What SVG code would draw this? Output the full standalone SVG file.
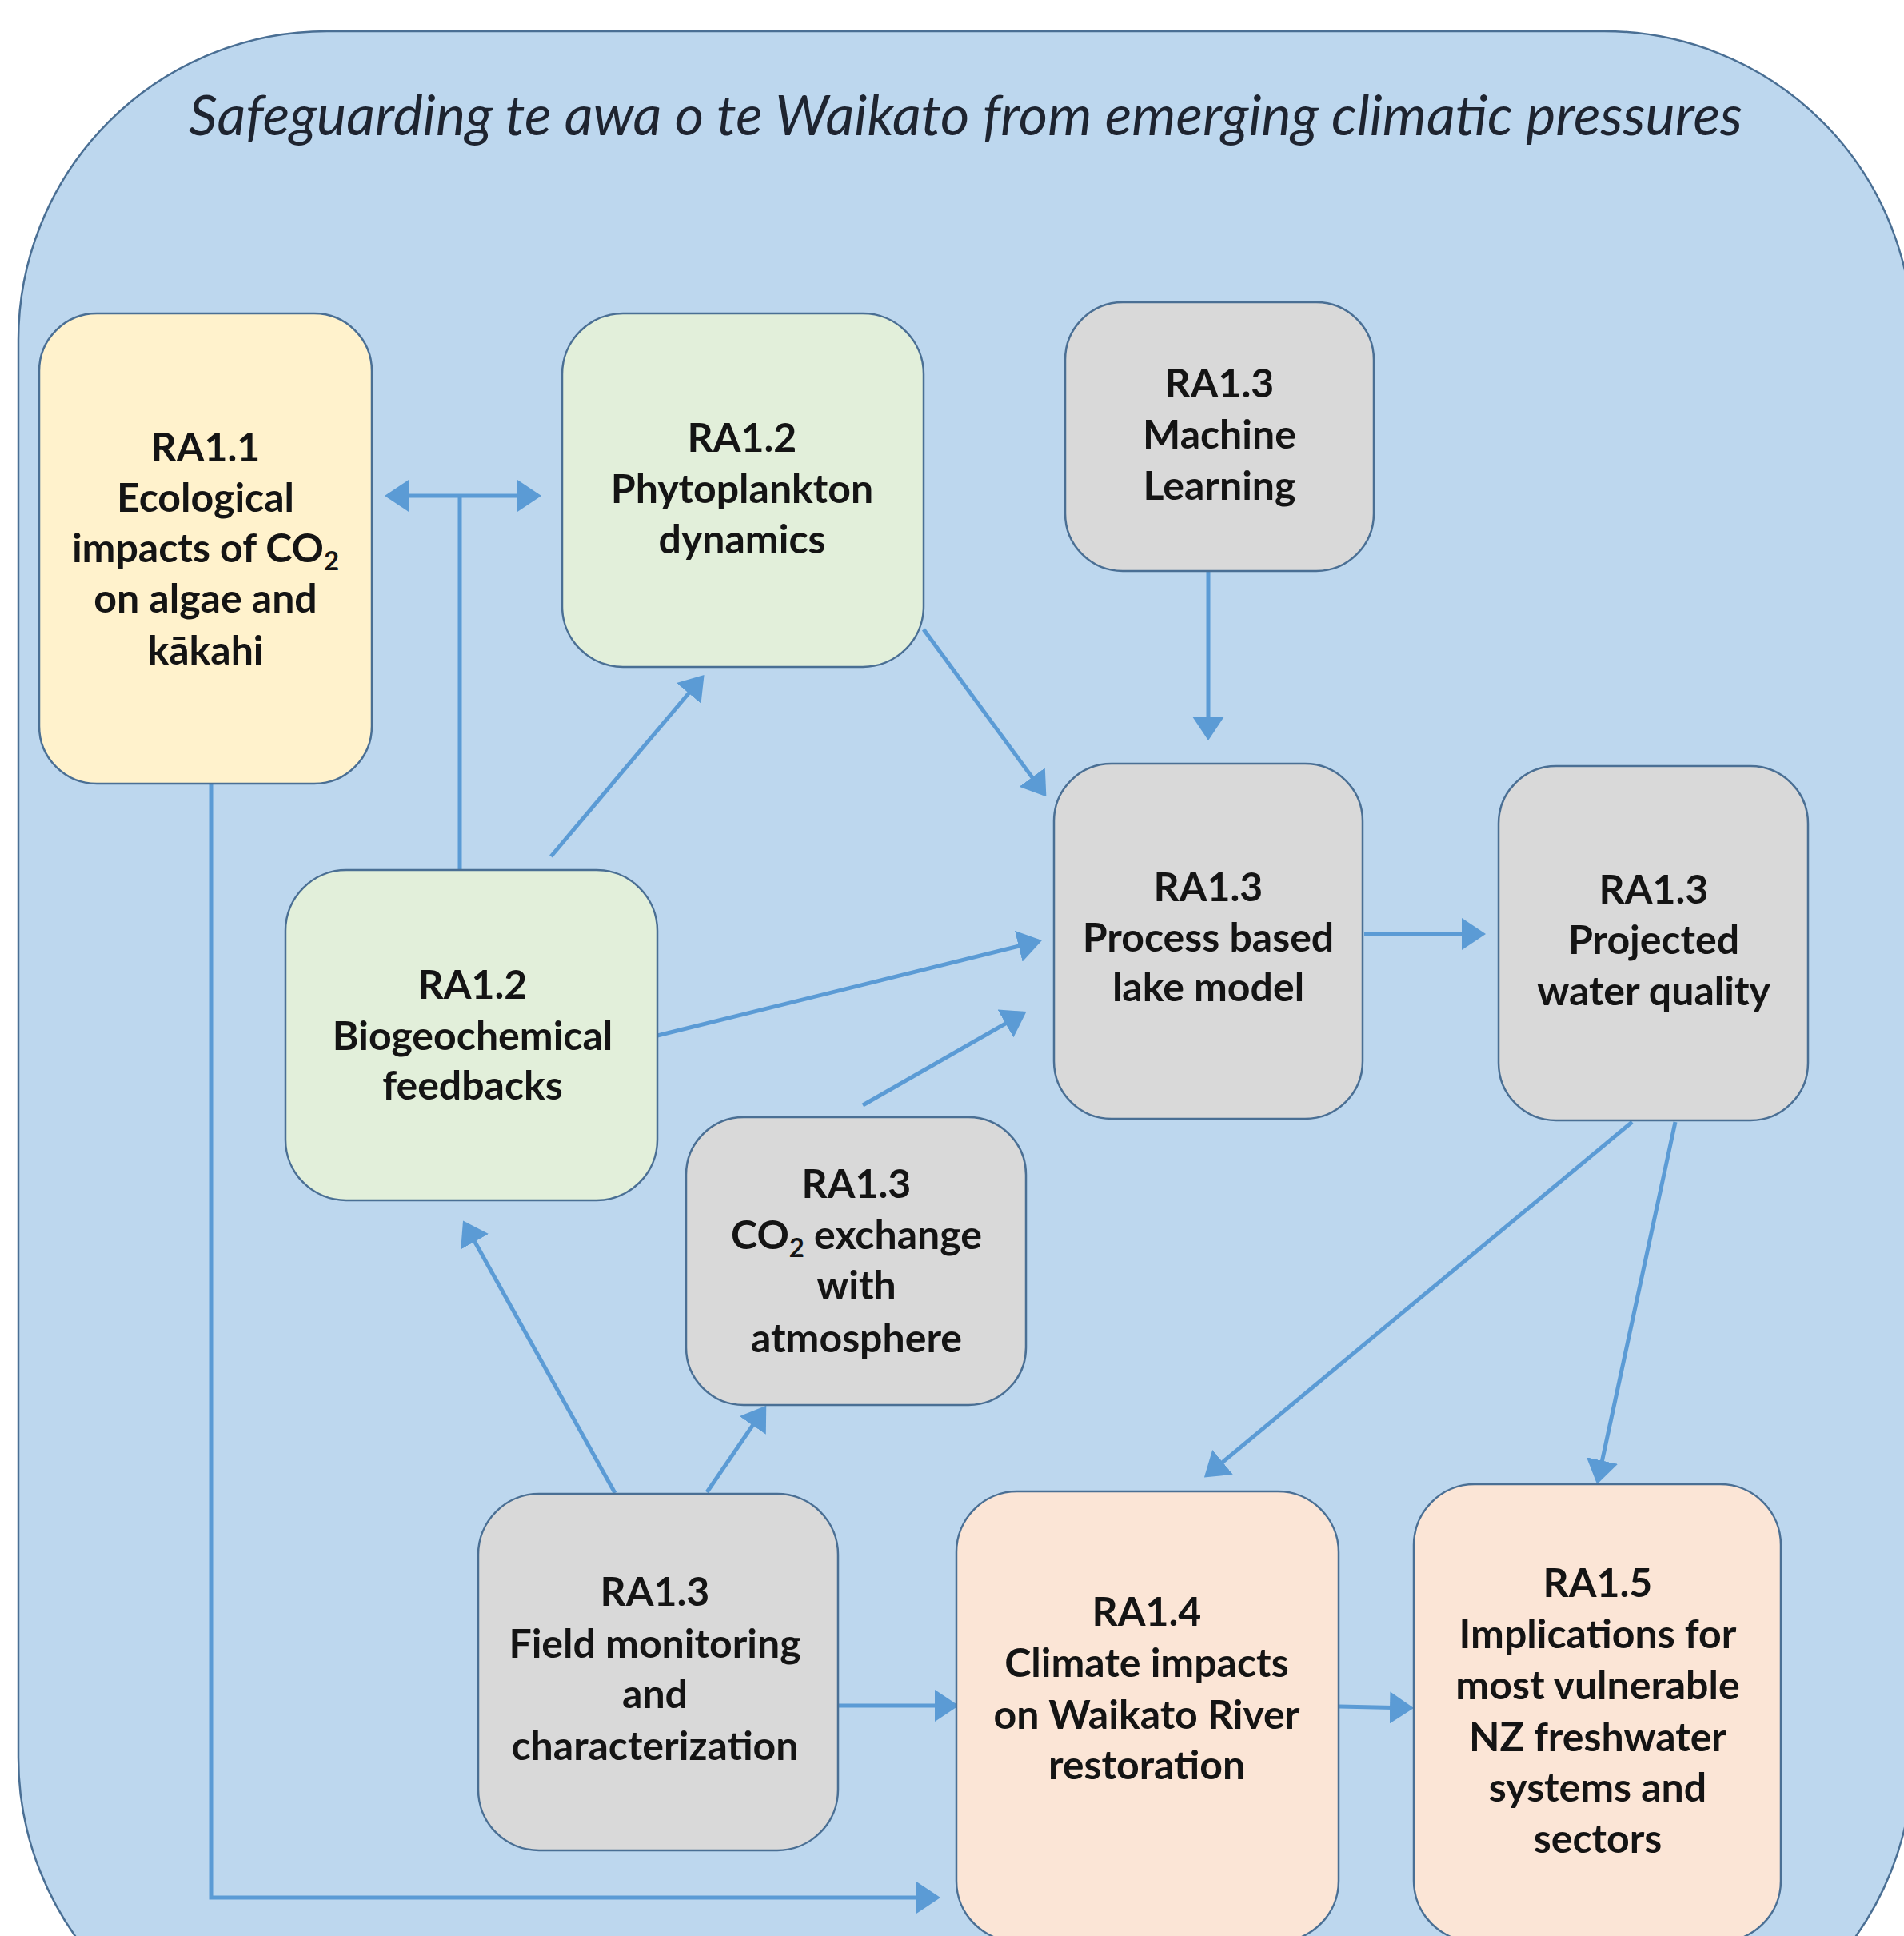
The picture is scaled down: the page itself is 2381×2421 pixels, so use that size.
<svg xmlns="http://www.w3.org/2000/svg" width="2381" height="2421" viewBox="0 0 2381 2421">
<style>
.box{stroke:#4a6f94;stroke-width:2.5}
.yel{fill:#FFF2CC}
.grn{fill:#E2EFDA}
.gry{fill:#D9D9D9}
.pch{fill:#FBE5D6}
.lbl{font-family:Lato,"Open Sans","Liberation Sans",sans-serif;font-weight:bold;font-size:50px;fill:#141414;text-anchor:middle}
.sub{font-size:33px}
.con{fill:none;stroke:#5B9BD5;stroke-width:5}
.arr{marker-end:url(#ah)}
</style>
<defs>
<marker id="ah" viewBox="0 0 30 40" refX="26" refY="20" markerWidth="30" markerHeight="40" markerUnits="userSpaceOnUse" orient="auto-start-reverse">
<path d="M0,0 L30,20 L0,40 Z" fill="#5B9BD5"/>
</marker>
</defs>
<rect width="2381" height="2421" fill="#ffffff"/>
<rect id="frame" x="23" y="39" width="2369" height="2545" rx="386" ry="386" fill="#BDD7EE" stroke="#4a6f94" stroke-width="2.5"/>
<text id="title" x="236" y="169" textLength="1943" lengthAdjust="spacingAndGlyphs" font-family="Lato,'Open Sans','Liberation Sans',sans-serif" font-style="italic" font-size="70" fill="#1e2430">Safeguarding te awa o te Waikato from emerging climatic pressures</text>

<g id="connectors">
<path class="con" d="M575,1088 L575,620"/>
<path class="con" d="M485,620 L673,620" marker-start="url(#ah)" marker-end="url(#ah)"/>
<path class="con arr" d="M689,1071 L878,847"/>
<path class="con arr" d="M1155,787 L1306,993"/>
<path class="con arr" d="M1511,714 L1511,922"/>
<path class="con arr" d="M822,1295 L1299,1177"/>
<path class="con arr" d="M1079,1382 L1280,1267"/>
<path class="con arr" d="M1706,1168 L1854,1168"/>
<path class="con arr" d="M2041,1403 L1509,1845"/>
<path class="con arr" d="M2095,1403 L1998,1852"/>
<path class="con arr" d="M769,1867 L581,1530"/>
<path class="con arr" d="M884,1866 L956,1761"/>
<path class="con arr" d="M1048,2133 L1195,2133"/>
<path class="con arr" d="M1675,2134 L1764,2136"/>
<path class="con arr" d="M264,981 L264,2373 L1172,2373"/>
</g>

<g id="ra11">
<rect class="box yel" x="49" y="392" width="416" height="588" rx="72"/>
<text class="lbl"><tspan x="257" y="577">RA1.1</tspan><tspan x="257" y="640">Ecological</tspan><tspan x="257" y="703">impacts of CO<tspan class="sub" dy="10">2</tspan></tspan><tspan x="257" y="766">on algae and</tspan><tspan x="257" y="831">kākahi</tspan></text>
</g>

<g id="ra12-phyto">
<rect class="box grn" x="703" y="392" width="452" height="442" rx="76"/>
<text class="lbl"><tspan x="928" y="565">RA1.2</tspan><tspan x="928" y="629">Phytoplankton</tspan><tspan x="928" y="692">dynamics</tspan></text>
</g>

<g id="ra13-ml">
<rect class="box gry" x="1332" y="378" width="386" height="336" rx="72"/>
<text class="lbl"><tspan x="1525" y="497">RA1.3</tspan><tspan x="1525" y="561">Machine</tspan><tspan x="1525" y="625">Learning</tspan></text>
</g>

<g id="ra13-process">
<rect class="box gry" x="1318" y="955" width="386" height="444" rx="72"/>
<text class="lbl"><tspan x="1511" y="1127">RA1.3</tspan><tspan x="1511" y="1190">Process based</tspan><tspan x="1511" y="1252">lake model</tspan></text>
</g>

<g id="ra13-projected">
<rect class="box gry" x="1874" y="958" width="387" height="443" rx="72"/>
<text class="lbl"><tspan x="2068" y="1130">RA1.3</tspan><tspan x="2068" y="1193">Projected</tspan><tspan x="2068" y="1257">water quality</tspan></text>
</g>

<g id="ra12-biogeo">
<rect class="box grn" x="357" y="1088" width="465" height="413" rx="76"/>
<text class="lbl"><tspan x="591" y="1249">RA1.2</tspan><tspan x="591" y="1313">Biogeochemical</tspan><tspan x="591" y="1375">feedbacks</tspan></text>
</g>

<g id="ra13-co2">
<rect class="box gry" x="858" y="1397" width="425" height="360" rx="72"/>
<text class="lbl"><tspan x="1071" y="1498">RA1.3</tspan><tspan x="1071" y="1562">CO<tspan class="sub" dy="10">2</tspan><tspan dy="-10"> exchange</tspan></tspan><tspan x="1071" y="1625">with</tspan><tspan x="1071" y="1691">atmosphere</tspan></text>
</g>

<g id="ra13-field">
<rect class="box gry" x="598" y="1868" width="450" height="446" rx="76"/>
<text class="lbl"><tspan x="819" y="2008">RA1.3</tspan><tspan x="819" y="2073">Field monitoring</tspan><tspan x="819" y="2136">and</tspan><tspan x="819" y="2201">characterization</tspan></text>
</g>

<g id="ra14">
<rect class="box pch" x="1196" y="1865" width="478" height="563" rx="76"/>
<text class="lbl"><tspan x="1434" y="2033">RA1.4</tspan><tspan x="1434" y="2097">Climate impacts</tspan><tspan x="1434" y="2162">on Waikato River</tspan><tspan x="1434" y="2225">restoration</tspan></text>
</g>

<g id="ra15">
<rect class="box pch" x="1768" y="1856" width="459" height="572" rx="76"/>
<text class="lbl"><tspan x="1998" y="1997">RA1.5</tspan><tspan x="1998" y="2061">Implications for</tspan><tspan x="1998" y="2125">most vulnerable</tspan><tspan x="1998" y="2190">NZ freshwater</tspan><tspan x="1998" y="2253">systems and</tspan><tspan x="1998" y="2317">sectors</tspan></text>
</g>
</svg>
